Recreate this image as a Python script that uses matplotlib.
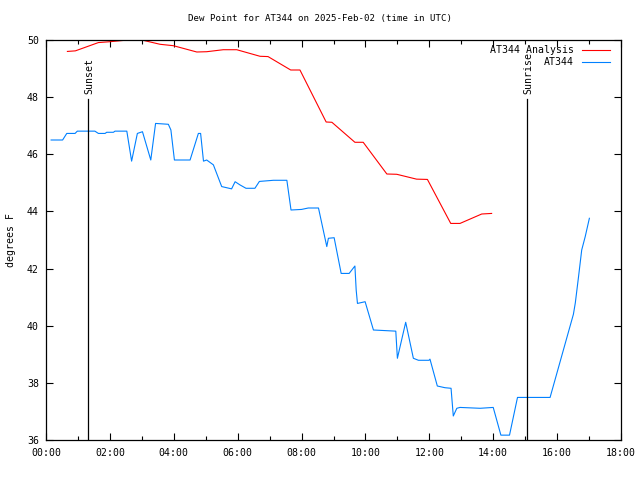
import matplotlib
matplotlib.use("Agg")
import matplotlib.pyplot as plt

# -------------------------
# Data (hours UTC, degrees F)
# -------------------------
analysis_hours = [0.67, 0.92, 1.64, 2.00, 2.47, 3.00, 3.57, 3.99, 4.72, 5.03,
                  5.55, 5.97, 6.70, 6.95, 7.66, 7.95, 8.77, 8.95, 9.67, 9.93,
                  10.67, 10.98, 11.60, 11.94, 12.67, 12.96, 13.64, 13.95]
analysis_dewpt = [49.60, 49.62, 49.91, 49.94, 49.99, 50.00, 49.85, 49.80, 49.58, 49.59,
                  49.66, 49.66, 49.43, 49.42, 48.95, 48.95, 47.13, 47.12, 46.42, 46.42,
                  45.31, 45.30, 45.13, 45.12, 43.58, 43.58, 43.91, 43.93]

obs_hours = [0.16, 0.52, 0.65, 0.91, 0.98, 1.53, 1.64, 1.85, 1.90, 2.11,
             2.16, 2.53, 2.68, 2.86, 3.02, 3.28, 3.43, 3.83, 3.91, 4.02,
             4.51, 4.77, 4.84, 4.93, 5.03, 5.24, 5.50, 5.81, 5.92, 6.07,
             6.26, 6.54, 6.68, 7.12, 7.54, 7.67, 8.00, 8.21, 8.53, 8.79,
             8.84, 9.02, 9.24, 9.49, 9.67, 9.71, 9.75, 9.99, 10.25, 10.95,
             11.00, 11.26, 11.50, 11.66, 11.99, 12.02, 12.25, 12.49, 12.68, 12.75,
             12.86, 12.96, 13.59, 14.00, 14.24, 14.51, 14.76, 15.78, 16.51, 16.57,
             16.67, 16.77, 16.88, 17.01]
obs_dewpt = [46.50, 46.50, 46.73, 46.73, 46.81, 46.81, 46.73, 46.73, 46.77, 46.77,
             46.81, 46.81, 45.76, 46.73, 46.79, 45.80, 47.08, 47.05, 46.85, 45.80,
             45.80, 46.73, 46.73, 45.76, 45.80, 45.63, 44.87, 44.79, 45.04, 44.93,
             44.81, 44.81, 45.05, 45.09, 45.09, 44.05, 44.07, 44.12, 44.12, 42.77,
             43.06, 43.08, 41.83, 41.83, 42.09, 41.25, 40.78, 40.84, 39.85, 39.81,
             38.86, 40.12, 38.86, 38.79, 38.79, 38.83, 37.89, 37.83, 37.81, 36.84,
             37.11, 37.14, 37.11, 37.14, 36.17, 36.17, 37.49, 37.49, 40.40, 40.80,
             41.71, 42.65, 43.12, 43.76]

sunset_hour = 1.32
sunrise_hour = 15.07

x_ticks = [0, 2, 4, 6, 8, 10, 12, 14, 16, 18]
x_labels = ["00:00", "02:00", "04:00", "06:00", "08:00",
            "10:00", "12:00", "14:00", "16:00", "18:00"]
y_ticks = [36, 38, 40, 42, 44, 46, 48, 50]

# -------------------------
# Plot
# -------------------------
plt.rcParams["font.family"] = "DejaVu Sans Mono"
fs = 7.1

fig = plt.figure(figsize=(6.4, 4.8), dpi=100)
ax = fig.add_axes([46 / 640, 40 / 480, 575 / 640, 400 / 480])

ax.plot(analysis_hours, analysis_dewpt, color="#ff0000", linewidth=0.8)
ax.plot(obs_hours, obs_dewpt, color="#0080ff", linewidth=0.8)

# sunset / sunrise markers
line_top = 47.93
for hr, name in [(sunset_hour, "Sunset"), (sunrise_hour, "Sunrise")]:
    ax.plot([hr, hr], [36, line_top], color="black", linewidth=0.9)
    ax.text(hr + 0.03, 48.12, name, rotation=90, ha="center", va="bottom", fontsize=fs)

ax.set_xlim(0, 18)
ax.set_ylim(36, 50)
ax.set_xticks(x_ticks)
ax.set_xticklabels(x_labels)
ax.set_xticks(range(1, 18, 2), minor=True)
ax.set_yticks(y_ticks)

ax.tick_params(axis="both", which="both", direction="in", top=True, right=True,
               labelsize=fs, width=0.8)
ax.tick_params(axis="both", which="major", length=5)
ax.tick_params(axis="x", which="minor", length=3)
ax.tick_params(axis="x", which="major", pad=6)
ax.tick_params(axis="y", which="major", pad=5)
for sp in ax.spines.values():
    sp.set_linewidth(0.9)

# legend, gnuplot style (right aligned text, sample line on the right)
legend_items = [("AT344 Analysis", "#ff0000"), ("AT344", "#0080ff")]
for i, (label, col) in enumerate(legend_items):
    yy = 0.975 - i * 0.031
    ax.text(0.918, yy, label, transform=ax.transAxes, ha="right", va="center", fontsize=fs)
    ax.plot([0.932, 0.981], [yy, yy], transform=ax.transAxes, color=col, linewidth=0.8)

fig.text(0.5, 1 - 19 / 480, "Dew Point for AT344 on 2025-Feb-02 (time in UTC)",
         ha="center", va="center", fontsize=6.6)
fig.text(11 / 640, 0.5, "degrees F", rotation=90, ha="center", va="center", fontsize=fs)

fig.savefig("out.png", dpi=100)
